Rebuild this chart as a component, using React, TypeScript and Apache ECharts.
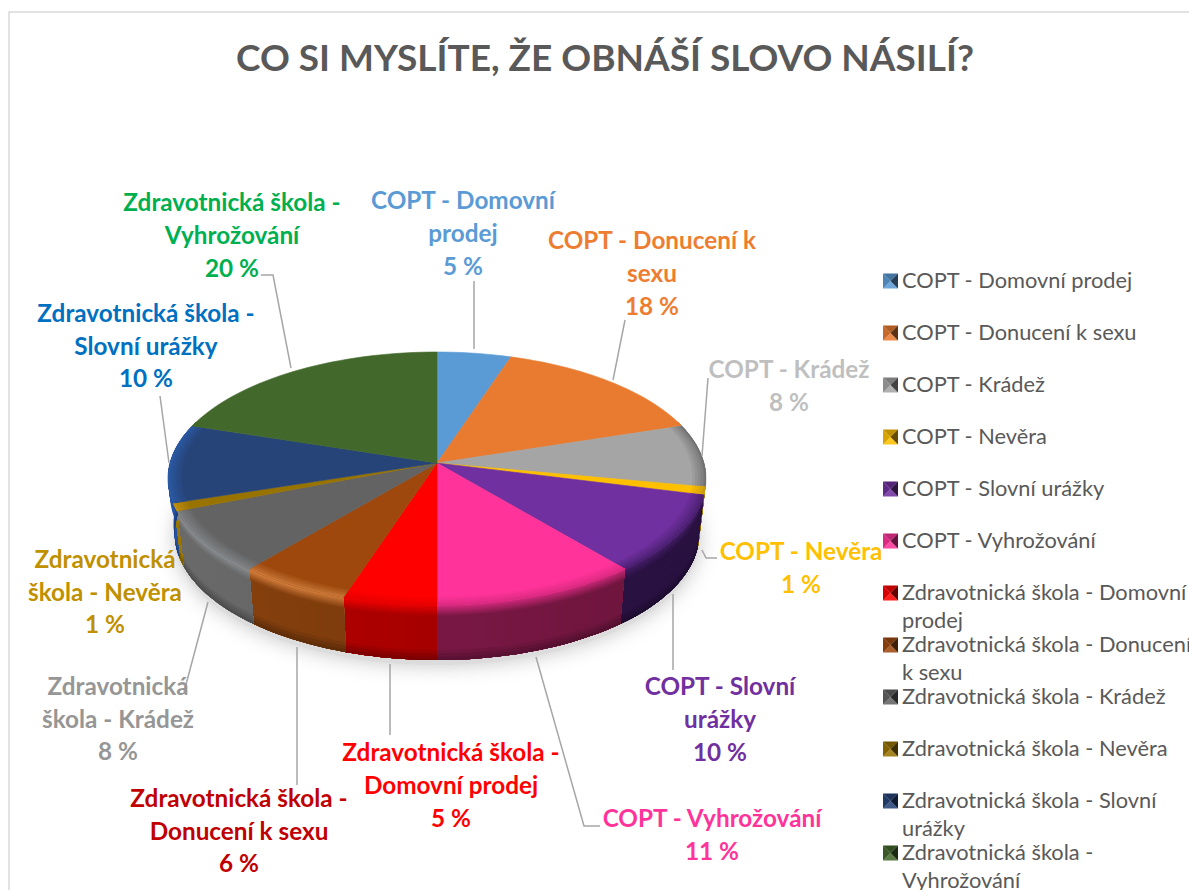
import React, { useEffect, useRef } from "react";
import * as echarts from "echarts";

const titleText = "CO SI MYSLÍTE, ŽE OBNÁŠÍ SLOVO NÁSILÍ?";
const categories = [
  "COPT - Domovní prodej", "COPT - Donucení k sexu", "COPT - Krádež", "COPT - Nevěra",
  "COPT - Slovní urážky", "COPT - Vyhrožování", "Zdravotnická škola - Domovní prodej",
  "Zdravotnická škola - Donucení k sexu", "Zdravotnická škola - Krádež", "Zdravotnická škola - Nevěra",
  "Zdravotnická škola - Slovní urážky", "Zdravotnická škola - Vyhrožování",
];
// slice sizes as drawn in the picture
const sliceValues = [5, 15, 8, 1, 10, 11, 5, 6, 8, 1, 10, 20];
// percentages as printed on the labels
const printedPercents = ["5 %", "18 %", "8 %", "1 %", "10 %", "11 %", "5 %", "6 %", "8 %", "1 %", "10 %", "20 %"];
const labelNames = [
  "COPT - Domovní\nprodej", "COPT - Donucení k\nsexu", "COPT - Krádež", "COPT - Nevěra",
  "COPT - Slovní\nurážky", "COPT - Vyhrožování", "Zdravotnická škola -\nDomovní prodej",
  "Zdravotnická škola -\nDonucení k sexu", "Zdravotnická\nškola - Krádež", "Zdravotnická\nškola - Nevěra",
  "Zdravotnická škola -\nSlovní urážky", "Zdravotnická škola -\nVyhrožování",
];
const legendNames = [
  "COPT - Domovní prodej", "COPT - Donucení k sexu", "COPT - Krádež", "COPT - Nevěra",
  "COPT - Slovní urážky", "COPT - Vyhrožování", "Zdravotnická škola - Domovní\nprodej",
  "Zdravotnická škola - Donucení\nk sexu", "Zdravotnická škola - Krádež", "Zdravotnická škola - Nevěra",
  "Zdravotnická škola - Slovní\nurážky", "Zdravotnická škola -\nVyhrožování",
];

// styling
const topColors = ["#5b9bd5", "#e97b30", "#a5a5a5", "#ffc000", "#7030a0", "#ff3399", "#ff0000", "#9e480e", "#636363", "#997300", "#264478", "#43682b"];
const rimColors = ["#5b9bd5", "#e97b30", "#707070", "#c89a10", "#4a2070", "#d92a80", "#e60000", "#c9783a", "#808386", "#c08f10", "#2b5aa6", "#43682b"];
const wallColors = ["#3a6a96", "#a0531f", "#5e5e5e", "#a88000", "#2d1248", "#791744", "#a60000", "#7a3a0c", "#5f5f5f", "#8a6a00", "#1f4a94", "#2d471d"];
const labelColors = ["#5b9bd5", "#ed7d31", "#bfbfbf", "#ffc000", "#7030a0", "#ff3399", "#ff0000", "#c00000", "#969696", "#bf9000", "#0070c0", "#00b050"];
// layout of labels: centre x, centre y
const labelCenters = [[463, 232.5], [652, 272.5], [789, 385], [801, 567], [720, 718.5], [712, 834], [451, 784.5], [239, 830], [118, 718], [105, 591], [146, 345], [232, 234.5]];
const leaderLines = [
  [[474, 281], [474, 349]], [[625, 320], [613, 380]], [[708, 378], [702, 456]],
  [[717, 558], [706, 558], [702, 550]], [[673, 594], [673, 670]], [[600, 826], [584, 826], [536, 657]],
  [[390, 664], [390, 735]], [[297, 647], [297, 785]], [[208, 602], [184, 692]],
  [[169, 463], [160, 396]], [[291, 368], [273, 275], [261, 275]],
];
const legendRows = [281, 333, 385, 437, 489, 541, 593, 645, 697, 749, 801, 853];

const FONT = "Lato, Carlito, sans-serif";
const CX = 437, CY = 463, BX = 267, AY = 124.6, K = 0.1225, DEPTH = 55, NARROW = 0.025;

const total = sliceValues.reduce((a, b) => a + b, 0);
const project = (thetaDeg: number, r: number, t = 0): [number, number] => {
  const th = (thetaDeg * Math.PI) / 180;
  const X = r * Math.sin(th), Y = r * Math.cos(th);
  const w = 1 + K * Y;
  const sx = (BX * X) / w, sy = (AY * Y) / w;
  return [CX + sx * (1 - NARROW * t), CY - sy + DEPTH * t];
};
const hex = (c: string) => [1, 3, 5].map((i) => parseInt(c.slice(i, i + 2), 16));
const rgb = (a: number[]) => `rgb(${a.map((v) => Math.max(0, Math.min(255, Math.round(v)))).join(",")})`;
const mix = (a: number[], b: number[], f: number) => a.map((v, i) => v + (b[i] - v) * f);
const sliceRange = (i: number) => {
  let s = 0;
  for (let j = 0; j < i; j++) s += sliceValues[j];
  return [(s / total) * 360, ((s + sliceValues[i]) / total) * 360];
};
const arc = (a0: number, a1: number, r: number, t: number) => {
  const n = Math.max(2, Math.ceil((a1 - a0) / 2));
  const pts: [number, number][] = [];
  for (let i = 0; i <= n; i++) pts.push(project(a0 + ((a1 - a0) * i) / n, r, t));
  return pts;
};
const poly = (points: any, fill: any, stroked = true) => ({
  type: "polygon", silent: true, shape: { points },
  style: { fill, stroke: stroked && typeof fill === "string" ? fill : undefined, lineWidth: stroked ? 0.6 : 0 },
});

const WALL_BANDS = [0, 0.02, 0.04, 0.06, 0.08, 0.1, 0.12, 0.14, 0.16, 0.18, 0.2, 0.3, 0.82, 0.88, 0.94, 0.98];
const wallShade = (i: number, t: number, sx: number) => {
  const wall = hex(wallColors[i]), rim = hex(rimColors[i]);
  let c = t < 0.2 ? mix(rim, wall, t / 0.2) : wall;
  if (t > 0.8) c = mix(c, [0, 0, 0], ((t - 0.8) / 0.2) * 0.3);
  const f = 1 - (0.12 * (sx - CX)) / 269;
  return c.map((v) => v * f);
};
// bands overlap: each one runs down to the wall's foot and the next paints over it
const renderWall = (params: any, api: any) => {
  const i = params.dataIndex;
  api.value(1);
  const [s, e] = sliceRange(i);
  const a0 = Math.max(s, 88), a1 = Math.min(e, 272);
  if (a1 <= a0) return { type: "group", children: [] };
  const children: any[] = [];
  WALL_BANDS.forEach((t0, b) => {
    const t1 = WALL_BANDS[b + 1] ?? 1;
    const pts = arc(a0, a1, 1, t0).concat(arc(a0, a1, 1, 1).reverse());
    const xs = pts.map((p) => p[0]);
    const x0 = Math.min(...xs), x1 = Math.max(...xs);
    const tm = (t0 + t1) / 2;
    const fill = new echarts.graphic.LinearGradient(0, 0, 1, 0, [
      { offset: 0, color: rgb(wallShade(i, tm, x0)) },
      { offset: 1, color: rgb(wallShade(i, tm, x1)) },
    ]);
    children.push(poly(pts, fill, false));
  });
  return { type: "group", children };
};
const RIM_STEPS = [0.95, 0.96, 0.97, 0.98, 0.99, 0.995];
const renderTop = (params: any, api: any) => {
  const i = params.dataIndex;
  api.value(1);
  const [s, e] = sliceRange(i);
  const top = hex(topColors[i]), rim = hex(rimColors[i]);
  const children: any[] = [poly([[CX, CY] as [number, number]].concat(arc(s, e, 1, 0)), topColors[i])];
  const a0 = Math.max(s, 70), a1 = Math.min(e, 290);
  if (a1 > a0) {
    RIM_STEPS.forEach((r, k) => {
      const c = mix(top, rim, (k + 1) / RIM_STEPS.length);
      children.push(poly(arc(a0, a1, 1, 0).concat(arc(a0, a1, r, 0).reverse()), rgb(c), false));
    });
  }
  return { type: "group", children };
};

const bevelIcon = (i: number, y: number) => {
  const x0 = 883, x1 = 898, y0 = y - 7.5, y1 = y + 7.5, mx = 890.5;
  const base = hex(topColors[i]);
  const pieces: [number[][], number[]][] = [
    [[[x0, y0], [x1, y0], [mx, y]], mix(base, [0, 0, 0], 0.25)],
    [[[x0, y1], [x1, y1], [mx, y]], mix(base, [255, 255, 255], 0.12)],
    [[[x0, y0], [x0, y1], [mx, y]], mix(base, [0, 0, 0], 0.15)],
    [[[x1, y0], [x1, y1], [mx, y]], mix(base, [0, 0, 0], 0.6)],
  ];
  return pieces.map(([points, c]) => ({
    type: "polygon", silent: true, z: 10, shape: { points }, style: { fill: rgb(c) },
  }));
};

const App = () => {
  const ref = useRef<HTMLDivElement>(null);
  useEffect(() => {
    document.body.style.margin = "0";
    const chart = echarts.init(ref.current!, undefined, { renderer: "svg" });
    const data = sliceValues.map((v, i) => ({ name: categories[i], value: [i, v] }));
    const bottomOutline = arc(0, 360, 1, 1);
    const graphics: any[] = [
      { type: "polyline", silent: true, z: 1, shape: { points: [[9, 890], [9, 12], [1189, 12]] }, style: { stroke: "#d9d9d9", lineWidth: 1.5, fill: "none" } },
      { type: "polygon", silent: true, z: 1, shape: { points: bottomOutline.map((p) => [p[0], p[1] + 5]) }, style: { fill: "#dcdcdc", shadowBlur: 20, shadowColor: "#c4c4c4" } },
    ];
    leaderLines.forEach((points) => {
      graphics.push({ type: "polyline", silent: true, z: 10, shape: { points }, style: { stroke: "#a6a6a6", lineWidth: 1.5, fill: "none" } });
    });
    labelNames.forEach((name, i) => {
      graphics.push({
        type: "text", silent: true, z: 12, x: labelCenters[i][0], y: labelCenters[i][1],
        style: {
          text: `${name}\n${printedPercents[i]}`, fill: labelColors[i], align: "center", verticalAlign: "middle",
          font: `bold 24.3px ${FONT}`, lineHeight: 32.7,
        },
      });
    });
    legendNames.forEach((name, i) => {
      const y = legendRows[i];
      bevelIcon(i, y).forEach((g) => graphics.push(g));
      graphics.push({
        type: "text", silent: true, z: 12, x: 902, y: y - 15.5,
        style: { text: name, fill: "#595959", align: "left", verticalAlign: "top", font: `21.8px ${FONT}`, lineHeight: 28 },
      });
    });
    chart.setOption({
      animation: false,
      backgroundColor: "#ffffff",
      title: {
        text: titleText, left: 600, top: 33, textAlign: "center",
        textStyle: { color: "#595959", fontFamily: FONT, fontWeight: "bold", fontSize: 37 },
      },
      series: [
        { type: "custom", name: "walls", coordinateSystem: "none", z: 2, silent: true, renderItem: renderWall, data },
        { type: "custom", name: "tops", coordinateSystem: "none", z: 3, silent: true, renderItem: renderTop, data },
      ],
      graphic: { elements: graphics },
    });
    return () => chart.dispose();
  }, []);
  return <div ref={ref} style={{ position: "fixed", left: 0, top: 0, width: 1189, height: 890 }} />;
};

export default App;
